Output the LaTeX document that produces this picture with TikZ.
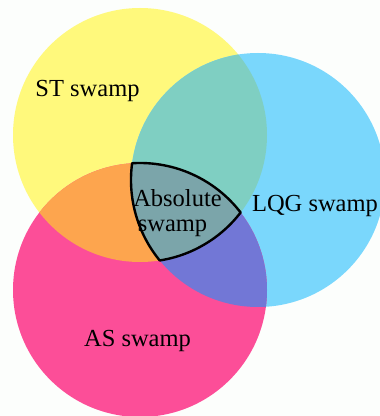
\documentclass[tikz,border=0pt]{standalone}
\usepackage{fontspec}
\setmainfont{Liberation Serif}
\definecolor{stYellow}{HTML}{FFF97C}
\definecolor{lqgCyan}{HTML}{7AD7FC}
\definecolor{asMagenta}{HTML}{FC4E98}
\definecolor{stLqg}{HTML}{7FCFC2}
\definecolor{stAs}{HTML}{FDA54E}
\definecolor{lqgAs}{HTML}{7277D6}
\definecolor{allThree}{HTML}{7BA5AA}
\definecolor{paper}{HTML}{FCFEFC}
\tikzset{
  label text/.style={inner sep=0pt, anchor=base, text=black,
    font=\fontsize{24.5}{29}\selectfont},
  rim/.style={draw=black, line width=2.4pt, line join=round}
}
\newcommand\stCircle{(140,281) circle[radius=127]}
\newcommand\lqgCircle{(258,236) circle[radius=127]}
\newcommand\asCircle{(140,126) circle[radius=127]}
\begin{document}
\begin{tikzpicture}[x=1pt, y=1pt]
  \fill[paper] (0,0) rectangle (380,416);
  \useasboundingbox (0,0) rectangle (380,416);

  % the three sets
  \fill[stYellow] \stCircle;
  \fill[lqgCyan] \lqgCircle;
  \fill[asMagenta] \asCircle;

  % pairwise overlaps
  \begin{scope}\clip \stCircle; \fill[stLqg] \lqgCircle; \end{scope}
  \begin{scope}\clip \stCircle; \fill[stAs] \asCircle; \end{scope}
  \begin{scope}\clip \lqgCircle; \fill[lqgAs] \asCircle; \end{scope}

  % common part of all three
  \begin{scope}\clip \stCircle; \clip \lqgCircle; \fill[allThree] \asCircle; \end{scope}

  % outline of the common part: arcs of AS, ST and LQG circles
  \coordinate (cornerA) at (132.11,252.76);
  \draw[rim] (cornerA)
    arc[start angle=93.56, end angle=37.6, radius=127]
    arc[start angle=-37.6, end angle=-81.06, radius=127]
    arc[start angle=-140.69, end angle=-187.58, radius=127]
    -- cycle;

  % labels
  \node[label text] (st)  at (87.5,319) {ST swamp};
  \node[label text] (lqg) at (315,204) {LQG swamp};
  \node[label text] (as)  at (137.5,70) {AS swamp};
  \node[label text] (abs1) at (177.5,209) {Absolute};
  \node[label text] (abs2) at (172.5,184) {swamp};
\end{tikzpicture}
\end{document}
